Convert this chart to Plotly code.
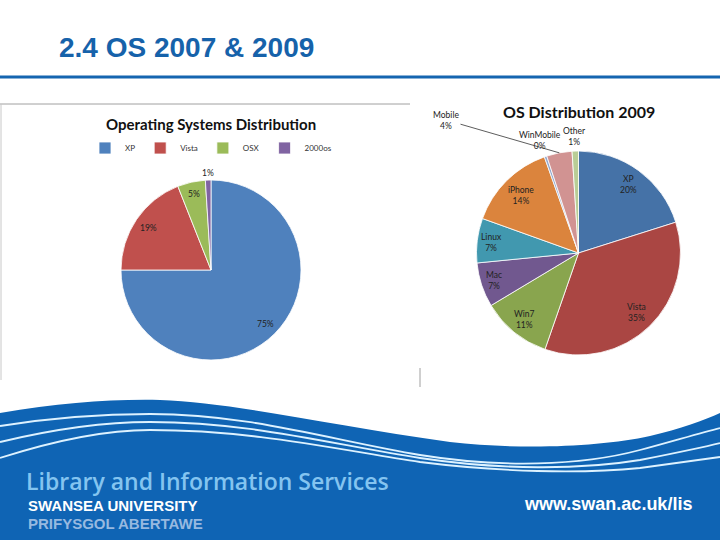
import math
import plotly.graph_objects as go

# ---- data ----
labels_2007 = ["XP", "Vista", "OSX", "2000os"]
values_2007 = [75, 19, 5, 1]
colors_2007 = ["#4F81BD", "#C0504D", "#9BBB59", "#8064A2"]

labels_2009 = ["XP", "Vista", "Win7", "Mac", "Linux", "iPhone", "WinMobile", "Mobile", "Other"]
values_2009 = [20, 35, 11, 7, 7, 14, 0.4, 4, 1]
colors_2009 = ["#4572A7", "#AA4643", "#89A54E", "#71588F", "#4198AF", "#DB843D",
               "#93A9CF", "#D19392", "#B9CD96"]

# label placement (style): radius as fraction of pie radius
lab_r_2007 = [0.85, 0.84, 0.87, 1.08]
lab_r_2009 = [0.83, 0.82, 0.84, 0.87, 0.86, 0.80, 1.17, None, 1.14]

W, H = 720, 540
BLUE = "#0F64B4"

# pie geometry in pixels (centre x, centre y, radius)
P1 = (211, 270, 90)
P2 = (578.5, 253, 102)


def dom(p):
    cx, cy, r = p
    return dict(x=[(cx - r) / W, (cx + r) / W], y=[1 - (cy + r) / H, 1 - (cy - r) / H])


def label_points(values, p, factors):
    cx, cy, r = p
    tot = sum(values)
    cum = 0
    out = []
    for v, f in zip(values, factors):
        mid = (cum + v / 2) / tot * 2 * math.pi
        cum += v
        if f is None:
            out.append((None, None, mid))
        else:
            out.append((cx + f * r * math.sin(mid), cy - f * r * math.cos(mid), mid))
    return out


fig = go.Figure()

fig.add_trace(go.Pie(
    labels=labels_2007, values=values_2007, sort=False, direction="clockwise",
    marker=dict(colors=colors_2007, line=dict(color="white", width=0.8)),
    textinfo="none", domain=dom(P1), showlegend=True, hoverinfo="label+percent",
))

fig.add_trace(go.Pie(
    labels=labels_2009, values=values_2009, sort=False, direction="clockwise",
    marker=dict(colors=colors_2009, line=dict(color="white", width=0.8)),
    textinfo="none", domain=dom(P2), showlegend=False, hoverinfo="label+percent",
))

shapes = [
    dict(type="line", x0=0, x1=720, y0=77, y1=77, line=dict(color="#1565B0", width=3)),
    dict(type="line", x0=0, x1=410, y0=104, y1=104, line=dict(color="#A0A0A0", width=1)),
    dict(type="line", x0=1, x1=1, y0=104, y1=380, line=dict(color="#C8C8C8", width=1)),
    dict(type="line", x0=420, x1=420, y0=368, y1=387, line=dict(color="#A0A0A0", width=1)),
    dict(type="path", layer="below",
         path="M 0 413 C 60 403, 110 399, 160 400 C 230 402, 330 425, 450 442 "
              "C 520 450, 600 447, 650 436 C 680 429, 705 420, 720 413 L 720 540 L 0 540 Z",
         fillcolor=BLUE, line=dict(width=0)),
    dict(type="path",
         path="M 0 426 C 50 418, 100 414, 150 414 C 250 414, 330 440, 420 455 "
              "C 500 468, 580 466, 640 450 C 670 442, 700 433, 720 428",
         line=dict(color="#DDF2FF", width=1.8)),
    dict(type="path",
         path="M 0 442 C 50 430, 100 422, 150 422 C 250 422, 330 444, 420 458 "
              "C 500 470, 580 470, 640 460 C 670 454, 700 448, 720 443",
         line=dict(color="#DDF2FF", width=1.8)),
    dict(type="path",
         path="M 0 458 C 50 442, 100 430, 150 430 C 250 430, 330 448, 420 462 "
              "C 500 472, 580 474, 640 468 C 670 464, 700 460, 720 457",
         line=dict(color="#DDF2FF", width=1.8)),
]


def ann(text, x, y, size, color, family, xanchor="left", weight=None):
    f = dict(size=size, color=color, family=family)
    if weight:
        f["weight"] = weight
    return dict(text=text, x=x, y=y, xref="x", yref="y", showarrow=False,
                xanchor=xanchor, yanchor="middle", borderpad=0, borderwidth=0,
                font=f)


annotations = [
    ann("<b>2.4 OS 2007 &amp; 2009</b>", 59, 47, 28, "#1662AA", "Liberation Sans"),
    ann("<b>Operating Systems Distribution</b>", 211, 124, 15, "#111111", "Lato", "center"),
    ann("<b>OS Distribution 2009</b>", 579, 111, 16, "#111111", "Lato", "center"),
    ann("Library and Information Services", 26, 480.6, 23, "#84C4F0", "Open Sans", weight=600),
    ann("<b>SWANSEA UNIVERSITY</b>", 28, 505.8, 15, "#FFFFFF", "Liberation Sans"),
    ann("<b>PRIFYSGOL ABERTAWE</b>", 28, 523.3, 15, "#97B9E0", "Liberation Sans"),
    ann("<b>www.swan.ac.uk/lis</b>", 692, 504, 18, "#FFFFFF", "Liberation Sans", "right"),
]

LBL_FONT = "Lato"
tot07 = sum(values_2007)
for v, (x, y, _) in zip(values_2007, label_points(values_2007, P1, lab_r_2007)):
    annotations.append(ann(f"{round(v / tot07 * 100)}%", x, y, 8.5, "#222222", LBL_FONT, "center"))

tot09 = sum(values_2009)
for lab, v, (x, y, mid) in zip(labels_2009, values_2009, label_points(values_2009, P2, lab_r_2009)):
    txt = f"{lab}<br>{round(v / tot09 * 100)}%"
    if x is None:
        cx, cy, r = P2
        hx = cx + r * math.sin(mid)
        hy = cy - r * math.cos(mid)
        annotations.append(dict(text=txt, x=hx, y=hy, xref="x", yref="y",
                                ax=446, ay=120, axref="x", ayref="y",
                                showarrow=True, arrowhead=0, arrowwidth=0.8,
                                arrowcolor="#333333", standoff=0,
                                font=dict(size=8.5, color="#222222", family=LBL_FONT)))
    else:
        annotations.append(ann(txt, x, y, 8.5, "#222222", LBL_FONT, "center"))

fig.update_layout(
    width=W, height=H, margin=dict(l=0, r=0, t=0, b=0),
    paper_bgcolor="white", plot_bgcolor="white",
    xaxis=dict(range=[0, W], visible=False, fixedrange=True),
    yaxis=dict(range=[H, 0], visible=False, fixedrange=True),
    shapes=shapes, annotations=annotations,
    legend=dict(orientation="h", x=211 / W, xanchor="center", y=1 - 148 / H, yanchor="middle",
                font=dict(family="Lato", size=8, color="#333333"),
                itemwidth=30, bgcolor="rgba(0,0,0,0)"),
)

fig.write_html("out.html", config={"displayModeBar": False},
               post_script="document.body.style.margin='0px';document.body.style.overflow='hidden';")
